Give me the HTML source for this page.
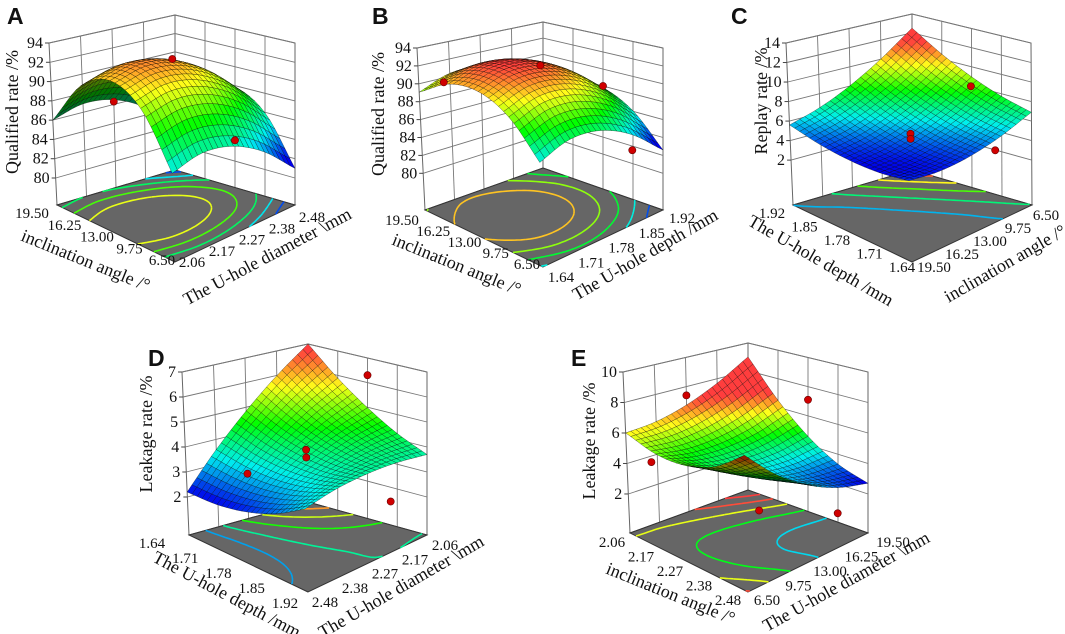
<!DOCTYPE html>
<html><head><meta charset="utf-8">
<style>
html,body{margin:0;padding:0;background:#fff;}
svg{display:block;}
text{font-family:"Liberation Serif",serif;fill:#111;}
.lt{font-family:"Liberation Sans",sans-serif;font-weight:bold;font-size:23px;}
.tk{font-size:16px;}
.ft{font-size:15px;}
.ti{font-size:18px;}
</style></head>
<body>
<svg id="fig" width="1065" height="634" viewBox="0 0 1065 634" xmlns="http://www.w3.org/2000/svg"></svg>
<script>
// ---------- data (response surface values on a 5x5 grid; rows: left-front axis from front to left, cols: front-right axis from front to right) ----------
const surfA = [[85.0,85.88,85.5,83.88,81.0],[89.94,90.82,90.44,88.82,85.94],[91.75,92.63,92.25,90.63,87.75],[90.44,91.32,90.94,89.32,86.44],[86.0,86.88,86.5,84.88,82.0]];
const surfB = [[85.70,86.99,86.91,85.45,82.60],[89.16,90.46,90.37,88.91,86.06],[90.88,92.18,92.09,90.63,87.78],[90.84,92.14,92.05,90.59,87.74],[89.06,90.36,90.27,88.81,85.96]];
const surfC = [[4.5,4.35,4.7,5.55,6.9],[4.21,4.34,4.98,6.10,7.74],[4.3,4.71,5.63,7.04,8.95],[4.76,5.45,6.65,8.34,10.54],[5.6,6.58,8.05,10.03,12.5]];
const surfD = [[3.3,3.59,3.75,3.79,3.7],[2.74,3.31,3.74,4.06,4.24],[2.375,3.21,3.93,4.51,4.98],[2.19,3.31,4.29,5.16,5.89],[2.2,3.59,4.85,5.99,7.0]];
const surfE = [[7.0,5.36,4.1,3.21,2.7],[5.81,4.63,3.82,3.39,3.34],[5.25,4.52,4.18,4.2,4.6],[5.31,5.04,5.15,5.63,6.49],[6.0,6.19,6.75,7.69,9.0]];
const zTicksA = [80,82,84,86,88,90,92,94];
const zTicksB = [80,82,84,86,88,90,92,94];
const zTicksC = [2,4,6,8,10,12,14];
const zTicksD = [2,3,4,5,6,7];
const zTicksE = [2,4,6,8,10];
const angleTicks = ['19.50','16.25','13.00','9.75','6.50'];
const angleTicksRev = ['6.50','9.75','13.00','16.25','19.50'];
const diamTicks = ['2.06','2.17','2.27','2.38','2.48'];
const diamTicksRev = ['2.48','2.38','2.27','2.17','2.06'];
const depthTicks = ['1.64','1.71','1.78','1.85','1.92'];
const depthTicksRev = ['1.92','1.85','1.78','1.71','1.64'];
const pointsA = [[0.5,0.5,92.4],[1,0.5,86.3],[0.5,1,82.2]];
const pointsB = [[0.5,0.5,92.1],[0.5,1,88.0],[0,0.75,83.8],[1,0.2,89.5]];
const pointsC = [[0.5,0.5,5.0],[0.5,0.5,4.5],[0.35,0.85,9.0],[0.1,0.8,3.6]];
const pointsD = [[0.5,0.5,4.0],[0.5,0.5,3.7],[0.5,1,6.3],[0,0.7,2.4],[1,0.5,2.3]];
const pointsE = [[1,0.5,7.4],[0.5,1,7.1],[1,0.2,3.6],[0.2,0.3,2.6],[0,0.75,1.6]];

// ---------- layout (pixel geometry per panel) ----------
const panels = [
 {id:'a',letter:'A',lx:7,ly:24,surf:surfA,zt:zTicksA,zF:77.2,pts:pointsA,cmin:82,cmax:94,
  F:[175,262],L:[57,205],R:[295,205],B:[175,170],TL:[49,43],TB:[175,15],TR:[295,43],
  lf:angleTicks,lf0:[32,213],lf1:[162,260],fr:diamTicks,fr0:[192,262],fr1:[312,217],
  t1:'inclination angle /°',t1c:[85,262],t1r:22,t2:'The U-hole diameter \\mm',t2c:[268,258],t2r:-28,
  zt_t:'Qualified rate /%',ztc:[14,112]},
 {id:'b',letter:'B',lx:372,ly:24,surf:surfB,zt:zTicksB,zF:75.9,pts:pointsB,cmin:83.5,cmax:92.5,
  F:[543,267],L:[425,210],R:[663,210],B:[543,168],TL:[417,48],TB:[543,22],TR:[663,48],
  lf:angleTicks,lf0:[402,220],lf1:[527,264],fr:depthTicks,fr0:[561,277],fr1:[682,218],
  t1:'inclination angle /°',t1c:[456,266],t1r:22,t2:'The U-hole depth /mm',t2c:[646,256],t2r:-30,
  zt_t:'Qualified rate /%',ztc:[380,114]},
 {id:'c',letter:'C',lx:731,ly:24,surf:surfC,zt:zTicksC,zF:-2.6,pts:pointsC,cmin:4.2,cmax:11.5,
  F:[912,262],L:[793,205],R:[1032,205],B:[912,170],TL:[786,43],TB:[912,14],TR:[1031,43],
  lf:depthTicksRev,lf0:[772,213],lf1:[902,267],fr:angleTicks,fr0:[934,267],fr1:[1046,215],
  t1:'The U-hole depth /mm',t1c:[820,262],t1r:30,t2:'inclination angle /°',t2c:[1006,265],t2r:-30,
  zt_t:'Replay rate /%',ztc:[763,101]},
 {id:'d',letter:'D',lx:148,ly:366,surf:surfD,zt:zTicksD,zF:0.48,pts:pointsD,cmin:2.2,cmax:6.8,
  F:[308,592],L:[189,535],R:[427,535],B:[308,502],TL:[182,372],TB:[308,344],TR:[427,372],
  lf:depthTicks,lf0:[152,543],lf1:[285,603],fr:diamTicksRev,fr0:[325,602],fr1:[445,545],
  t1:'The U-hole depth /mm',t1c:[226,596],t1r:28,t2:'The U-hole diameter \\mm',t2c:[402,588],t2r:-30,
  zt_t:'Leakage rate /%',ztc:[148,434]},
 {id:'e',letter:'E',lx:571,ly:366,surf:surfE,zt:zTicksE,zF:-0.56,pts:pointsE,cmin:2.8,cmax:7.0,
  F:[748,592],L:[630,533],R:[868,533],B:[748,490],TL:[623,372],TB:[748,343],TR:[868,372],
  lf:diamTicks,lf0:[612,542],lf1:[728,600],fr:angleTicksRev,fr0:[767,600],fr1:[893,542],
  t1:'inclination angle /°',t1c:[670,595],t1r:22,t2:'The U-hole diameter \\mm',t2c:[847,583],t2r:-29,
  zt_t:'Leakage rate /%',ztc:[591,441]}
];

const NS='http://www.w3.org/2000/svg';
const svg=document.getElementById('fig');
function mk(tag,attrs,parent){const e=document.createElementNS(NS,tag);for(const k in attrs)e.setAttribute(k,attrs[k]);(parent||svg).appendChild(e);return e;}

function gget(g,i,j){const n=g.length-1;
 if(i<0)return 2*gget(g,0,j)-gget(g,1,j);
 if(i>n)return 2*gget(g,n,j)-gget(g,n-1,j);
 if(j<0)return 2*gget(g,i,0)-gget(g,i,1);
 if(j>n)return 2*gget(g,i,n)-gget(g,i,n-1);
 return g[i][j];}
function cr(p0,p1,p2,p3,t){return 0.5*((2*p1)+(-p0+p2)*t+(2*p0-5*p1+4*p2-p3)*t*t+(-p0+3*p1-3*p2+p3)*t*t*t);}
function interp(g,a,b){const n=g.length-1;let x=a*n,y=b*n;let i=Math.min(Math.floor(x),n-1),j=Math.min(Math.floor(y),n-1);const tx=x-i,ty=y-j;
 const r=[];for(let k=-1;k<=2;k++){r.push(cr(gget(g,i+k,j-1),gget(g,i+k,j),gget(g,i+k,j+1),gget(g,i+k,j+2),ty));}
 return cr(r[0],r[1],r[2],r[3],tx);}

function cmap(t,dark){t=Math.max(0,Math.min(1,t));const h=240*(1-t);const l=46+16*t*t;return 'hsl('+h.toFixed(1)+',100%,'+(dark?l*0.45:l).toFixed(1)+'%)';}

panels.forEach(p=>{
 const g=mk('g',{});
 
 
 const zT=p.zt[p.zt.length-1], zF=p.zF;
 const TF=[p.TL[0]+p.TR[0]-p.TB[0],p.TL[1]+p.TR[1]-p.TB[1]];
 function bl(F,L,R,B,a,b,k){return F[k]*(1-a)*(1-b)+L[k]*a*(1-b)+R[k]*(1-a)*b+B[k]*a*b;}
 function proj(a,b,z){const t=(z-zF)/(zT-zF);const out=[];for(let k=0;k<2;k++){const f=bl(p.F,p.L,p.R,p.B,a,b,k),tp=bl(TF,p.TL,p.TR,p.TB,a,b,k);out.push(f+(tp-f)*t);}return out;}
 const pts=arr=>arr.map(q=>q[0].toFixed(1)+','+q[1].toFixed(1)).join(' ');
 const cn=z=>(z-p.cmin)/(p.cmax-p.cmin);
 // walls
 const wl=mk('polygon',{points:pts([proj(1,0,zF),proj(1,1,zF),proj(1,1,zT),proj(1,0,zT)]),fill:'#fff',stroke:'#666','stroke-width':1},g);
 
 
 const wr=mk('polygon',{points:pts([proj(1,1,zF),proj(0,1,zF),proj(0,1,zT),proj(1,1,zT)]),fill:'#fff',stroke:'#666','stroke-width':1},g);
 
 
 [0.25,0.5,0.75].forEach(s=>{
  const a1=proj(1,s,zF),a2=proj(1,s,zT);
  const l1=mk('line',{x1:a1[0],y1:a1[1],x2:a2[0],y2:a2[1],stroke:'#777','stroke-width':0.9},g);
  
  
  const b1=proj(s,1,zF),b2=proj(s,1,zT);
  const l2=mk('line',{x1:b1[0],y1:b1[1],x2:b2[0],y2:b2[1],stroke:'#777','stroke-width':0.9},g);
  
  
 });
 p.zt.forEach(z=>{
  const q=mk('polyline',{points:pts([proj(1,0,z),proj(1,1,z),proj(0,1,z)]),fill:'none',stroke:'#777','stroke-width':0.9},g);
  
  
  const e=proj(1,0,z);
  const tm=mk('line',{x1:e[0]-4,y1:e[1],x2:e[0],y2:e[1],stroke:'#444','stroke-width':1},g);
  
  
  const tx=mk('text',{x:e[0]-6,y:e[1]+5,'text-anchor':'end',class:'tk'},g);
  tx.textContent=String(z);
  
  
 });
 // floor
 const fl=mk('polygon',{points:pts([p.F,p.L,p.B,p.R]),fill:'#666',stroke:'#333','stroke-width':1},g);
 
 
 // surface stats
 const N=24; const Z=[];let zmin=1e9,zmax=-1e9;
 for(let i=0;i<=N;i++){Z.push([]);for(let j=0;j<=N;j++){const v=interp(p.surf,i/N,j/N);Z[i].push(v);zmin=Math.min(zmin,v);zmax=Math.max(zmax,v);}}
 // contours on floor (marching squares)
 const M=40;const ZC=[];for(let i=0;i<=M;i++){ZC.push([]);for(let j=0;j<=M;j++)ZC[i].push(interp(p.surf,i/M,j/M));}
 for(let li=1;li<=5;li++){const lev=zmin+(zmax-zmin)*li/6;let d='';
  for(let i=0;i<M;i++)for(let j=0;j<M;j++){
   const c=[[i,j],[i+1,j],[i+1,j+1],[i,j+1]];const v=c.map(q=>ZC[q[0]][q[1]]);const cross=[];
   for(let k=0;k<4;k++){const k2=(k+1)%4;if((v[k]-lev)*(v[k2]-lev)<0){const t=(lev-v[k])/(v[k2]-v[k]);cross.push([(c[k][0]+(c[k2][0]-c[k][0])*t)/M,(c[k][1]+(c[k2][1]-c[k][1])*t)/M]);}}
   for(let k=0;k+1<cross.length;k+=2){const A=proj(cross[k][0],cross[k][1],zF),B=proj(cross[k+1][0],cross[k+1][1],zF);d+='M'+A[0].toFixed(1)+' '+A[1].toFixed(1)+'L'+B[0].toFixed(1)+' '+B[1].toFixed(1);}
  }
  if(d){const cp=mk('path',{d:d,stroke:cmap(cn(lev)),'stroke-width':1.6,fill:'none'},g);
   
   }
 }
 // surface quads, back to front
 const floorSign=Math.sign((p.L[0]-p.F[0])*(p.R[1]-p.F[1])-(p.L[1]-p.F[1])*(p.R[0]-p.F[0]));
 const quads=[];for(let i=0;i<N;i++)for(let j=0;j<N;j++)quads.push([i,j]);
 quads.sort((u,v)=>(v[0]+v[1])-(u[0]+u[1]));
 const sg=mk('g',{},g);
 
 
 quads.forEach(([i,j])=>{
  const P0=proj(i/N,j/N,Z[i][j]),P1=proj((i+1)/N,j/N,Z[i+1][j]),P2=proj((i+1)/N,(j+1)/N,Z[i+1][j+1]),P3=proj(i/N,(j+1)/N,Z[i][j+1]);
  const s=Math.sign((P1[0]-P0[0])*(P3[1]-P0[1])-(P1[1]-P0[1])*(P3[0]-P0[0]));
  const zm=(Z[i][j]+Z[i+1][j]+Z[i+1][j+1]+Z[i][j+1])/4;
  const q=mk('polygon',{points:pts([P0,P1,P2,P3]),fill:cmap(cn(zm),s!==floorSign),stroke:'rgba(0,0,0,0.55)','stroke-width':0.5},sg);
  
  
 });
 // design points
 p.pts.forEach(d=>{const e=proj(d[0],d[1],d[2]);
  const c=mk('circle',{cx:e[0].toFixed(1),cy:e[1].toFixed(1),r:3.6,fill:'#d00000',stroke:'#600','stroke-width':0.6},g);
  
  });
 // floor tick labels
 for(let k=0;k<5;k++){const t=k/4;
  const x=p.lf0[0]+(p.lf1[0]-p.lf0[0])*t,y=p.lf0[1]+(p.lf1[1]-p.lf0[1])*t;
  const tx=mk('text',{x:x.toFixed(1),y:(y+5).toFixed(1),'text-anchor':'middle',class:'ft'},g);tx.textContent=p.lf[k];
  
  
  const x2=p.fr0[0]+(p.fr1[0]-p.fr0[0])*t,y2=p.fr0[1]+(p.fr1[1]-p.fr0[1])*t;
  const t2=mk('text',{x:x2.toFixed(1),y:(y2+5).toFixed(1),'text-anchor':'middle',class:'ft'},g);t2.textContent=p.fr[k];
  
  
 }
 const a1=mk('text',{x:p.t1c[0],y:p.t1c[1],'text-anchor':'middle','dominant-baseline':'middle',class:'ti',transform:'rotate('+p.t1r+' '+p.t1c[0]+' '+p.t1c[1]+')'},g);a1.textContent=p.t1;
 
 
 const a2=mk('text',{x:p.t2c[0],y:p.t2c[1],'text-anchor':'middle','dominant-baseline':'middle',class:'ti',transform:'rotate('+p.t2r+' '+p.t2c[0]+' '+p.t2c[1]+')'},g);a2.textContent=p.t2;
 
 
 const a3=mk('text',{x:p.ztc[0],y:p.ztc[1],'text-anchor':'middle','dominant-baseline':'middle',class:'ti',transform:'rotate(-90 '+p.ztc[0]+' '+p.ztc[1]+')'},g);a3.textContent=p.zt_t;
 
 
 const lt=mk('text',{x:p.lx,y:p.ly,class:'lt'},g);lt.textContent=p.letter;
 
 
});
</script>
</body></html>
